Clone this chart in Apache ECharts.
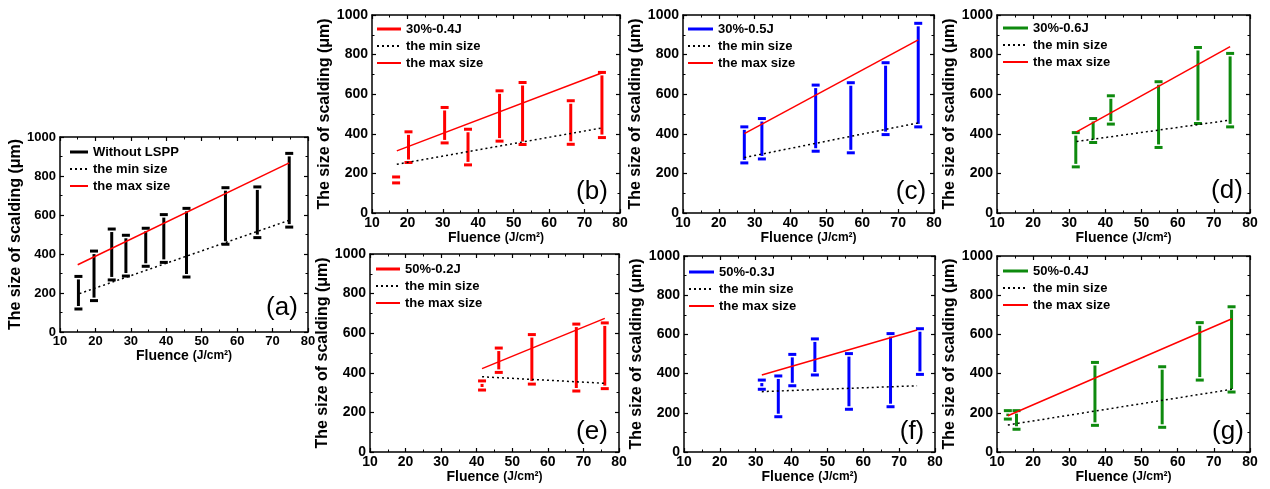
<!DOCTYPE html>
<html>
<head>
<meta charset="utf-8">
<script src="https://cdn.jsdelivr.net/npm/echarts@6/dist/echarts.min.js"></script>
<style>
html,body{margin:0;padding:0;background:#fff;}
#chart{width:1270px;height:489px;}
</style>
</head>
<body>
<div id="chart"></div>
<script>
// ---------- data ----------
const xTicks = [10, 20, 30, 40, 50, 60, 70, 80];
const yTicks = [0, 200, 400, 600, 800, 1000];

// (a) Without LSPP
const aFluence = [15.2, 19.6, 24.6, 28.6, 34.2, 39.3, 45.7, 56.7, 65.7, 74.7];
const aLow  = [118, 161, 267, 287, 337, 357, 282, 450, 484, 538];
const aHigh = [285, 415, 528, 496, 532, 602, 634, 740, 744, 916];
const aMinLine = [[15.5, 197], [74.7, 573]];
const aMaxLine = [[15.0, 345], [74.7, 867]];

// (b) 30%-0.4J
const bFluence = [16.8, 20.3, 30.5, 37.1, 46.0, 52.5, 66.1, 74.9];
const bLow  = [152, 255, 354, 243, 363, 346, 347, 381];
const bHigh = [182, 410, 533, 423, 617, 659, 567, 710];
const bMinLine = [[17.0, 246], [75.0, 430]];
const bMaxLine = [[17.0, 314], [75.0, 708]];

// (c) 30%-0.5J
const cFluence = [27.1, 32.0, 47.0, 56.8, 66.5, 75.6];
const cLow  = [253, 273, 312, 304, 396, 435];
const cHigh = [435, 477, 646, 658, 759, 958];
const cMinLine = [[27.1, 280], [75.6, 455]];
const cMaxLine = [[27.1, 401], [75.6, 874]];

// (d) 30%-0.6J
const dFluence = [31.8, 36.6, 41.5, 54.7, 65.6, 74.5];
const dLow  = [233, 356, 449, 331, 452, 435];
const dHigh = [406, 477, 592, 663, 836, 806];
const dMinLine = [[32.0, 361], [74.5, 469]];
const dMaxLine = [[32.0, 410], [74.5, 840]];

// (e) 50%-0.2J
const eFluence = [41.5, 46.2, 55.5, 68.0, 76.0];
const eLow  = [313, 402, 343, 308, 320];
const eHigh = [359, 525, 593, 646, 652];
const eMinLine = [[41.5, 380], [76.0, 347]];
const eMaxLine = [[41.5, 421], [76.0, 675]];

// (f) 50%-0.3J
const fFluence = [31.7, 36.3, 40.2, 46.5, 56.0, 67.6, 75.8];
const fLow  = [320, 180, 338, 393, 218, 231, 396];
const fHigh = [367, 388, 498, 577, 502, 604, 629];
const fMinLine = [[31.7, 308], [75.0, 338]];
const fMaxLine = [[31.7, 393], [75.0, 622]];

// (g) 50%-0.4J
const gFluence = [13.0, 15.4, 37.1, 55.7, 66.1, 74.9];
const gLow  = [168, 116, 136, 126, 367, 306];
const gHigh = [211, 211, 457, 435, 660, 741];
const gMinLine = [[13.0, 138], [75.0, 320]];
const gMaxLine = [[13.0, 185], [75.0, 680]];

const panelNames  = ['Without LSPP', '30%-0.4J', '30%-0.5J', '30%-0.6J', '50%-0.2J', '50%-0.3J', '50%-0.4J'];
const panelLabels = ['(a)', '(b)', '(c)', '(d)', '(e)', '(f)', '(g)'];

// ---------- layout & style ----------
const FONT = 'Arial, "Liberation Sans", sans-serif';
const RED = '#ff0000', BLUE = '#0000ff', GREEN = '#0e8a0e', BLACK = '#000000';
const panels = [
  {fl: aFluence, lo: aLow, hi: aHigh, mn: aMinLine, mx: aMaxLine, color: BLACK,
   grid: {left: 60, top: 137, width: 248, height: 195}, leg: {left: 69, top: 145, w: 18}, lab: [282, 308], fs: 13},
  {fl: bFluence, lo: bLow, hi: bHigh, mn: bMinLine, mx: bMaxLine, color: RED,
   grid: {left: 372, top: 15, width: 248, height: 198}, leg: {left: 376, top: 22, w: 24}, lab: [592, 192], fs: 14},
  {fl: cFluence, lo: cLow, hi: cHigh, mn: cMinLine, mx: cMaxLine, color: BLUE,
   grid: {left: 683, top: 15, width: 251, height: 198}, leg: {left: 687, top: 22, w: 25}, lab: [911, 192], fs: 14},
  {fl: dFluence, lo: dLow, hi: dHigh, mn: dMinLine, mx: dMaxLine, color: GREEN,
   grid: {left: 997, top: 15, width: 253, height: 198}, leg: {left: 1002, top: 21, w: 25}, lab: [1227, 191], fs: 14},
  {fl: eFluence, lo: eLow, hi: eHigh, mn: eMinLine, mx: eMaxLine, color: RED,
   grid: {left: 370, top: 254, width: 249, height: 198}, leg: {left: 375, top: 262, w: 24}, lab: [592, 432], fs: 14},
  {fl: fFluence, lo: fLow, hi: fHigh, mn: fMinLine, mx: fMaxLine, color: BLUE,
   grid: {left: 684, top: 256, width: 251, height: 196}, leg: {left: 688, top: 265, w: 25}, lab: [912, 432], fs: 14},
  {fl: gFluence, lo: gLow, hi: gHigh, mn: gMinLine, mx: gMaxLine, color: GREEN,
   grid: {left: 997, top: 256, width: 253, height: 196}, leg: {left: 1002, top: 264, w: 25}, lab: [1228, 432], fs: 14}
];

function renderErr(params, api) {
  const x = api.value(0), lo = api.value(1), hi = api.value(2);
  const pLo = api.coord([x, lo]);
  const pHi = api.coord([x, hi]);
  const color = api.visual('color');
  const capW = 8, capH = 3, barW = 3, gap = 1.5;
  const children = [
    {type: 'rect', shape: {x: pHi[0] - capW / 2, y: pHi[1] - capH / 2, width: capW, height: capH}, style: {fill: color}},
    {type: 'rect', shape: {x: pLo[0] - capW / 2, y: pLo[1] - capH / 2, width: capW, height: capH}, style: {fill: color}}
  ];
  const y0 = pHi[1] + capH / 2 + gap, y1 = pLo[1] - capH / 2 - gap;
  if (y1 > y0) {
    children.push({type: 'rect', shape: {x: pHi[0] - barW / 2, y: y0, width: barW, height: y1 - y0}, style: {fill: color}});
  }
  return {type: 'group', children: children};
}

const plain = function (v) { return String(v); };
const grid = [], xAxis = [], yAxis = [], series = [], legend = [], graphic = [];

panels.forEach(function (p, i) {
  grid.push(Object.assign({containLabel: false}, p.grid));
  const lineStyle = {color: BLACK, width: 1.5};
  const tick = {show: true, inside: true, length: 4, lineStyle: {color: BLACK, width: 1.2}};
  const minor = {show: true, splitNumber: 2, length: 2.5, lineStyle: {color: BLACK, width: 1}};
  const labelStyle = {color: BLACK, fontWeight: 'bold', fontSize: p.fs, fontFamily: FONT, formatter: plain};
  xAxis.push({
    type: 'value', gridIndex: i, min: xTicks[0], max: xTicks[xTicks.length - 1], interval: 10,
    position: 'bottom',
    axisLine: {show: true, onZero: false, lineStyle: lineStyle},
    axisTick: tick, minorTick: minor, splitLine: {show: false},
    axisLabel: Object.assign({margin: 3}, labelStyle),
    name: '{n|Fluence }{u|(J/cm²)}', nameLocation: 'middle', nameGap: 17,
    nameTextStyle: {rich: {
      n: {fontSize: 14, fontWeight: 'bold', fontFamily: FONT, color: BLACK},
      u: {fontSize: 12, fontWeight: 'bold', fontFamily: FONT, color: BLACK}
    }}
  });
  xAxis.push({
    type: 'value', gridIndex: i, min: xTicks[0], max: xTicks[xTicks.length - 1], interval: 10,
    position: 'top',
    axisLine: {show: true, onZero: false, lineStyle: lineStyle},
    axisTick: tick, minorTick: minor, splitLine: {show: false}, axisLabel: {show: false}
  });
  yAxis.push({
    type: 'value', gridIndex: i, min: yTicks[0], max: yTicks[yTicks.length - 1], interval: 200,
    position: 'left',
    axisLine: {show: true, onZero: false, lineStyle: lineStyle},
    axisTick: tick, minorTick: minor, splitLine: {show: false},
    axisLabel: Object.assign({margin: 4}, labelStyle),
    name: 'The size of scalding (μm)', nameLocation: 'middle', nameGap: 28,
    nameTextStyle: {fontSize: 16, fontWeight: 'bold', fontFamily: FONT, color: BLACK}
  });
  yAxis.push({
    type: 'value', gridIndex: i, min: yTicks[0], max: yTicks[yTicks.length - 1], interval: 200,
    position: 'right',
    axisLine: {show: true, onZero: false, lineStyle: lineStyle},
    axisTick: tick, minorTick: minor, splitLine: {show: false}, axisLabel: {show: false}
  });

  const data = p.fl.map(function (x, k) { return [x, p.lo[k], p.hi[k]]; });
  series.push({
    type: 'custom', name: panelNames[i], xAxisIndex: 2 * i, yAxisIndex: 2 * i,
    renderItem: renderErr, data: data, encode: {x: 0, y: [1, 2]},
    itemStyle: {color: p.color}, z: 3
  });
  series.push({
    type: 'line', name: 'the min size', xAxisIndex: 2 * i, yAxisIndex: 2 * i,
    data: p.mn, symbol: 'none', silent: true,
    lineStyle: {color: BLACK, width: 1.5, type: [2, 3]}, itemStyle: {color: BLACK}, z: 4
  });
  series.push({
    type: 'line', name: 'the max size', xAxisIndex: 2 * i, yAxisIndex: 2 * i,
    data: p.mx, symbol: 'none', silent: true,
    lineStyle: {color: RED, width: 1.5}, itemStyle: {color: RED}, z: 4
  });

  legend.push({
    orient: 'vertical', left: p.leg.left, top: p.leg.top, padding: 0,
    itemWidth: p.leg.w, itemHeight: 3, itemGap: 3, selectedMode: false,
    textStyle: {fontSize: 13, fontWeight: 'bold', fontFamily: FONT, color: BLACK, lineHeight: 14},
    data: [
      {name: panelNames[i], icon: 'rect', itemStyle: {color: p.color}},
      {name: 'the min size', itemStyle: {color: 'rgba(0,0,0,0)', borderWidth: 0}},
      {name: 'the max size', itemStyle: {color: 'rgba(0,0,0,0)', borderWidth: 0}}
    ]
  });

  graphic.push({
    type: 'text', x: p.lab[0], y: p.lab[1],
    style: {text: panelLabels[i], fontSize: 26, fontFamily: FONT, fill: BLACK, align: 'center', verticalAlign: 'middle'}
  });
});

const chart = echarts.init(document.getElementById('chart'), null, {renderer: 'canvas'});
chart.setOption({
  animation: false,
  backgroundColor: '#ffffff',
  grid: grid, xAxis: xAxis, yAxis: yAxis, series: series, legend: legend, graphic: graphic
});
</script>
</body>
</html>
